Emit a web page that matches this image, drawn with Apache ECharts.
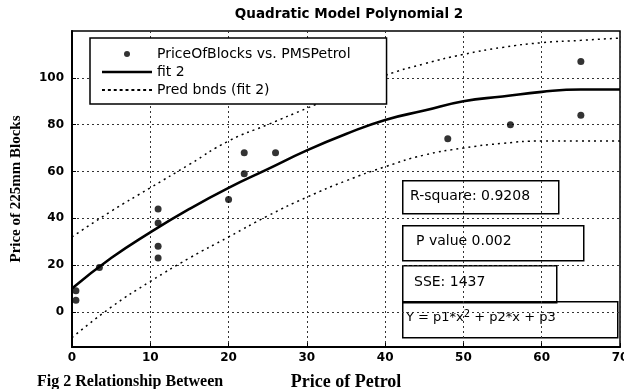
<!DOCTYPE html>
<html>
<head>
<meta charset="utf-8">
<script src="https://cdn.jsdelivr.net/npm/echarts@6/dist/echarts.min.js"></script>
<style>
html,body{margin:0;padding:0;background:#fff;}
#chart{width:624px;height:389px;}
</style>
</head>
<body>
<div id="chart"></div>
<script>
// ---- data ----
const xTicks = [0, 10, 20, 30, 40, 50, 60, 70];
const yTicks = [0, 20, 40, 60, 80, 100];

const priceOfPetrol = [0.5, 0.5, 3.5, 11, 11, 11, 11, 20, 22, 22, 26, 48, 56, 65, 65];
const priceOfBlocks = [9, 5, 19, 44, 38, 28, 23, 48, 68, 59, 68, 74, 80, 107, 84];

const fitX = [0, 5, 10, 15, 20, 25, 30, 35, 40, 45, 50, 55, 60, 65, 70];
const fitY = [10, 23, 34, 44, 53, 61, 69, 76, 82, 86, 90, 92, 94, 95, 95];
const predUpper = [32, 43, 53, 63, 73, 80, 87, 94, 101, 106, 110, 113, 115, 116, 117];
const predLower = [-11, 2, 13, 23, 32, 41, 49, 56, 62, 67, 70, 72, 73, 73, 73];

const statTexts = ['R-square: 0.9208', 'P value 0.002', 'SSE: 1437'];

const pair = (xs, ys) => xs.map((x, i) => [x, ys[i]]);

// legend icon shapes (solid bar, dotted bar)
let dotted = 'path://';
for (let k = 0; k < 50; k += 6) dotted += 'M' + k + ',0h3v2h-3z';
const solid = 'path://M0,0h50v2.6h-50z';

const chart = echarts.init(document.getElementById('chart'));
const sans = 'DejaVu Sans, Verdana, sans-serif';
const serif = 'Liberation Serif, Times New Roman, serif';
const gridLine = { show: true, lineStyle: { color: '#333', type: [2, 3], width: 1 } };

chart.setOption({
  backgroundColor: '#fff',
  animation: false,
  color: ['#000'],
  title: {
    text: 'Quadratic Model Polynomial 2',
    left: 344, top: 2, textAlign: 'center',
    textStyle: { fontFamily: sans, fontSize: 13.5, fontWeight: 'bold', color: '#000' }
  },
  legend: {
    orient: 'vertical',
    left: 90, top: 38,
    padding: [8, 36, 6, 12],
    itemGap: 2,
    itemWidth: 50, itemHeight: 6,
    backgroundColor: '#fff',
    borderColor: '#000', borderWidth: 1.5,
    textStyle: { fontFamily: sans, fontSize: 14, color: '#000', lineHeight: 16 },
    data: [
      { name: 'PriceOfBlocks vs. PMSPetrol', icon: 'circle', itemStyle: { color: '#000' } },
      { name: 'fit 2', icon: solid, itemStyle: { color: '#000' } },
      { name: 'Pred bnds (fit 2)', icon: dotted, itemStyle: { color: '#000' } }
    ]
  },
  grid: { left: 72, right: 4, top: 31, bottom: 42, show: true, borderColor: '#000', borderWidth: 1.5,
          outerBoundsMode: 'none', containLabel: false },
  xAxis: {
    type: 'value', min: 0, max: 70, interval: 10,
    name: 'Price of Petrol', nameLocation: 'middle', nameGap: 26,
    nameTextStyle: { fontFamily: serif, fontSize: 18, fontWeight: 'bold', color: '#000' },
    axisLine: { onZero: false, lineStyle: { color: '#000', width: 2 } },
    axisTick: { inside: true, length: 4, lineStyle: { color: '#000' } },
    axisLabel: { fontFamily: sans, fontSize: 12, fontWeight: 'bold', color: '#000', margin: 5,
                 customValues: xTicks },
    splitLine: gridLine
  },
  yAxis: {
    type: 'value', min: -15, max: 120,
    name: 'Price of 225mm Blocks', nameLocation: 'middle', nameGap: 48,
    nameTextStyle: { fontFamily: serif, fontSize: 15, fontWeight: 'bold', color: '#000' },
    axisLine: { show: true, onZero: false, lineStyle: { color: '#000', width: 2 } },
    axisTick: { show: true, inside: true, length: 4, lineStyle: { color: '#000' }, customValues: yTicks },
    axisLabel: { fontFamily: sans, fontSize: 12, fontWeight: 'bold', color: '#000', margin: 8,
                 customValues: yTicks },
    splitLine: gridLine
  },
  series: [
    {
      name: 'Pred bnds (fit 2)', type: 'line', data: pair(fitX, predUpper),
      showSymbol: false, symbol: 'none', smooth: true, color: '#000',
      lineStyle: { color: '#000', width: 1.5, type: [2, 4] }, z: 3
    },
    {
      name: 'Pred bnds (fit 2)', type: 'line', data: pair(fitX, predLower),
      showSymbol: false, symbol: 'none', smooth: true, color: '#000',
      lineStyle: { color: '#000', width: 1.5, type: [2, 4] }, z: 3
    },
    {
      name: 'fit 2', type: 'line', data: pair(fitX, fitY),
      showSymbol: false, symbol: 'none', smooth: true, color: '#000',
      lineStyle: { color: '#000', width: 2.6 }, z: 4
    },
    {
      name: 'PriceOfBlocks vs. PMSPetrol', type: 'scatter', data: pair(priceOfPetrol, priceOfBlocks),
      symbol: 'circle', symbolSize: 7, itemStyle: { color: '#000' }, z: 5
    }
  ],
  graphic: [
    { type: 'rect', left: 402, top: 180, shape: { width: 156, height: 33 },
      style: { fill: 'transparent', stroke: '#000', lineWidth: 1.5 } },
    { type: 'text', left: 410, top: 189,
      style: { text: statTexts[0], font: '14px ' + sans, fill: '#000' } },
    { type: 'rect', left: 402, top: 225, shape: { width: 181, height: 35 },
      style: { fill: 'transparent', stroke: '#000', lineWidth: 1.5 } },
    { type: 'text', left: 416, top: 234,
      style: { text: statTexts[1], font: '14px ' + sans, fill: '#000' } },
    { type: 'rect', left: 402, top: 265, shape: { width: 154, height: 37 },
      style: { fill: 'transparent', stroke: '#000', lineWidth: 1.5 } },
    { type: 'text', left: 414, top: 275,
      style: { text: statTexts[2], font: '14px ' + sans, fill: '#000' } },
    { type: 'rect', left: 402, top: 301, shape: { width: 215, height: 36 },
      style: { fill: 'transparent', stroke: '#000', lineWidth: 1.5 } },
    { type: 'text', left: 406, top: 309,
      style: {
        text: '{a|Y = p1*x}{s|2}{a| + p2*x + p3}',
        rich: {
          a: { fontFamily: sans, fontSize: 13, color: '#000', lineHeight: 18 },
          s: { fontFamily: sans, fontSize: 10, color: '#000', lineHeight: 18, padding: [0, 0, 8, 0] }
        }
      } },
    { type: 'text', left: 37, top: 374,
      style: { text: 'Fig 2 Relationship Between', font: 'bold 16px ' + serif, fill: '#000' } }
  ]
});
</script>
</body>
</html>
